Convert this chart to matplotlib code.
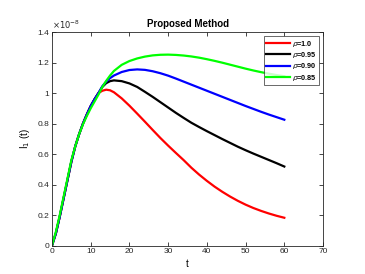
import numpy as np
import matplotlib
matplotlib.use('Agg')
import matplotlib.pyplot as plt

plt.rcParams['font.family'] = 'Liberation Sans'
plt.rcParams['mathtext.fontset'] = 'custom'

# time points
t = [0, 1, 2, 3, 4, 5, 6, 7, 8, 9, 10, 11, 12, 13, 14, 15, 16, 18, 20, 22, 24, 26, 28, 30,
     32, 34, 36, 38, 40, 42, 44, 46, 48, 50, 52, 54, 56, 58, 60]

# I_1(t) in units of 1e-8
rise = [0, 0.08, 0.19, 0.31, 0.43, 0.55, 0.65, 0.73, 0.80, 0.86, 0.915, 0.96, 1.0]
i_rho100 = rise + [1.015, 1.022, 1.018, 1.005, 0.965, 0.917, 0.865, 0.812, 0.758, 0.705,
                   0.655, 0.607, 0.56, 0.51, 0.465, 0.424, 0.386, 0.352, 0.321, 0.293,
                   0.268, 0.246, 0.227, 0.21, 0.195, 0.182]
i_rho095 = rise + [1.04, 1.065, 1.078, 1.083, 1.078, 1.063, 1.04, 1.008, 0.975, 0.94,
                   0.905, 0.87, 0.837, 0.805, 0.777, 0.75, 0.724, 0.698, 0.673, 0.648,
                   0.625, 0.603, 0.582, 0.561, 0.54, 0.518]
i_rho090 = rise + [1.045, 1.075, 1.098, 1.115, 1.138, 1.151, 1.155, 1.152, 1.143, 1.13,
                   1.114, 1.095, 1.075, 1.055, 1.035, 1.015, 0.995, 0.975, 0.955, 0.935,
                   0.915, 0.896, 0.877, 0.859, 0.842, 0.825]
i_rho085 = [0, 0.09, 0.2, 0.32, 0.44, 0.56, 0.65, 0.73, 0.795, 0.85, 0.9, 0.945, 0.99,
            1.04, 1.08, 1.115, 1.145, 1.185, 1.21, 1.227, 1.239, 1.247, 1.251, 1.252, 1.25,
            1.246, 1.24, 1.232, 1.222, 1.211, 1.199, 1.186, 1.173, 1.16, 1.148, 1.137,
            1.127, 1.118, 1.11]

series = [i_rho100, i_rho095, i_rho090, i_rho085]
labels = [r'$\rho$=1.0', r'$\rho$=0.95', r'$\rho$=0.90', r'$\rho$=0.85']
colors = ['#ff0000', '#000000', '#0000ff', '#00ff00']

fig = plt.figure(figsize=(3.65, 2.74), dpi=100)
ax = fig.add_axes([0.1425, 0.104, 0.7425, 0.779])

for y, lab, c in zip(series, labels, colors):
    ax.plot(t, y, color=c, lw=1.6, label=lab)

ax.set_xlim(0, 70)
ax.set_ylim(0, 1.4)
ax.set_xticks(np.arange(0, 71, 10))
ax.set_yticks([0, 0.2, 0.4, 0.6, 0.8, 1.0, 1.2, 1.4])
ax.set_yticklabels(['0', '0.2', '0.4', '0.6', '0.8', '1', '1.2', '1.4'])
ax.tick_params(direction='in', top=True, right=True, labelsize=6, length=3,
               width=0.6, pad=2, colors='#262626')
for s in ax.spines.values():
    s.set_linewidth(0.6)
    s.set_color('#262626')

ax.text(0.0, 1.005, r'$\times10^{-8}$', transform=ax.transAxes, fontsize=6,
        ha='left', va='bottom', color='#262626')
ax.set_title('Proposed Method', fontsize=7, fontweight='bold', pad=4)
ax.set_xlabel('t', fontsize=7, labelpad=3)
ax.set_ylabel(r'I$_1$ (t)', fontsize=7, labelpad=4)

leg = ax.legend(loc='upper right', fontsize=5.2, frameon=True, fancybox=False,
                edgecolor='#262626', handlelength=3.3, handletextpad=0.2,
                borderpad=0.35, labelspacing=0.2, borderaxespad=0.55)
leg.get_frame().set_linewidth(0.6)
for txt in leg.get_texts():
    txt.set_fontweight('bold')

fig.savefig('out.png', dpi=100)
